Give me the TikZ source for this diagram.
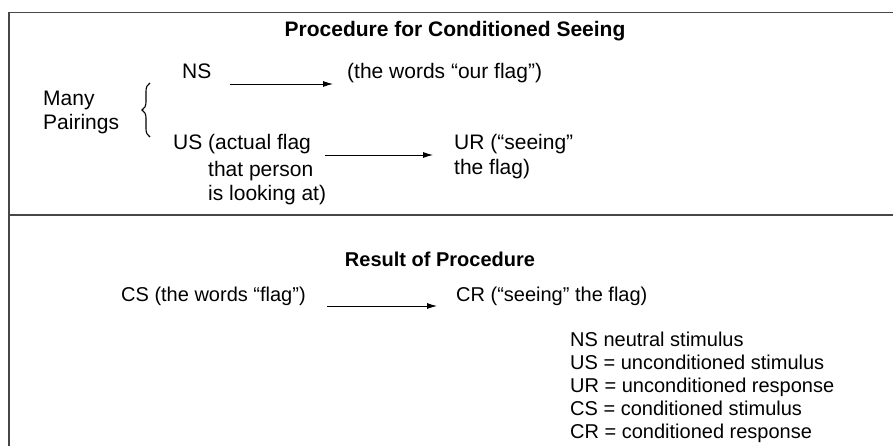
\documentclass[tikz,border=0pt]{standalone}
\usepackage{fontspec}
\setmainfont{Liberation Sans}
\usetikzlibrary{arrows.meta,decorations.pathreplacing}
\begin{document}
\begin{tikzpicture}[x=1pt,y=-1pt,
  txt/.style={inner sep=0pt, anchor=base west, font=\fontsize{21}{25}\selectfont},
  txtb/.style={inner sep=0pt, anchor=base west, font=\fontsize{20}{24}\selectfont},
  ttl/.style={inner sep=0pt, anchor=base, font=\fontsize{21}{25}\selectfont\bfseries},
  rule/.style={line width=1.6pt, draw=black!72},
  arr/.style={line width=0.9pt, -{Latex[length=10pt,width=6pt]}},
]
\useasboundingbox (0,0) rectangle (893,446);
% frame and divider
\draw[rule] (893,12.5) -- (9,12.5) -- (9,446);
\draw[rule] (9,215) -- (893,215);

% upper panel
\node[ttl] (t1) at (455,37) {Procedure for Conditioned Seeing};
\node[txt] (ns) at (182,79) {NS};
\node[txt] (nsw) at (347,79) {(the words “our flag”)};
\node[txt] (many) at (43,106) {Many};
\node[txt] (pair) at (43,130) {Pairings};
\coordinate (brb) at (150,137);
\coordinate (brt) at (150,83);
\draw[line width=1.1pt, decorate, decoration={brace, amplitude=8pt}] (brb) -- (brt);
\node[txt] (us) at (173,150) {US (actual flag};
\node[txt] (us2) at (208,177) {that person};
\node[txt] (us3) at (208,201) {is looking at)};
\node[txt] (ur) at (454,150) {UR (“seeing”};
\node[txt] (ur2) at (454,175) {the flag)};

\draw[arr] ([xshift=18pt,yshift=-5pt]ns.base east) -- ([xshift=-14pt,yshift=-5pt]nsw.base west);
\draw[arr] ([xshift=14pt,yshift=-5pt]us.base east) -- ([xshift=-21pt,yshift=-5pt]ur.base west);

% lower panel
\node[ttl, font=\fontsize{20}{24}\selectfont\bfseries] (t2) at (440,266) {Result of Procedure};
\node[txtb] (cs) at (121,301) {CS (the words “flag”)};
\node[txtb] (cr) at (456,301) {CR (“seeing” the flag)};
\draw[arr] ([xshift=21pt,yshift=-5pt]cs.base east) -- ([xshift=-19pt,yshift=-5pt]cr.base west);

\node[txtb] (l1) at (570,346) {NS neutral stimulus};
\node[txtb] (l2) at (570,369) {US = unconditioned stimulus};
\node[txtb] (l3) at (570,392) {UR = unconditioned response};
\node[txtb] (l4) at (570,415) {CS = conditioned stimulus};
\node[txtb] (l5) at (570,438) {CR = conditioned response};
\end{tikzpicture}
\end{document}
